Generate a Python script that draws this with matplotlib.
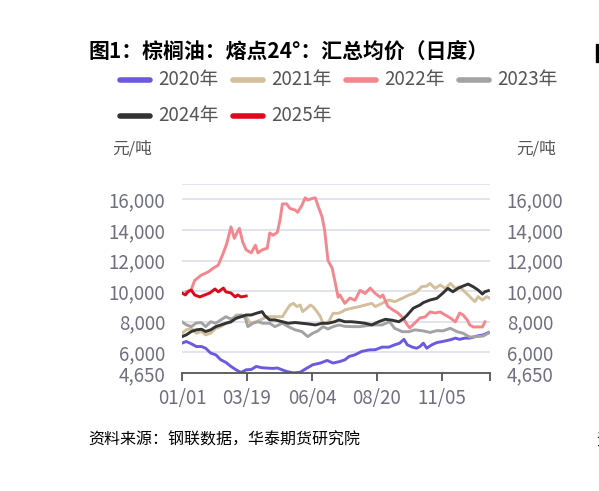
import matplotlib
matplotlib.use("Agg")
import matplotlib.pyplot as plt
from matplotlib.lines import Line2D
from matplotlib.patches import Rectangle

plt.rcParams['font.family'] = ['Noto Sans CJK SC', 'DejaVu Sans']

# 数据：日序(从1月1日起的天数), 价格(元/吨)
d2020 = [0, 5, 11, 17, 23, 28, 34, 40, 46, 52, 58, 64, 70, 76, 82, 88, 94, 101, 108, 113, 119, 124, 132,
         140, 148, 155, 164, 172, 179, 187, 193, 198, 205, 213, 222, 229, 237, 245, 252, 258, 263, 267,
         273, 278, 282, 286, 290, 296, 302, 309, 318, 324, 329, 335, 341, 350, 357, 363]
v2020 = [6600, 6710, 6560, 6380, 6380, 6270, 5950, 5840, 5510, 5340, 5080, 4860, 4680, 4860, 4880, 5080,
         5000, 4970, 4950, 4980, 4850, 4750, 4660, 4700, 4970, 5190, 5300, 5470, 5300, 5400, 5510, 5730,
         5840, 6060, 6160, 6170, 6340, 6340, 6490, 6600, 6850, 6490, 6340, 6270, 6380, 6600, 6270, 6490,
         6640, 6710, 6820, 6930, 6850, 6930, 6930, 7070, 7140, 7290]

d2021 = [0, 5, 11, 17, 23, 28, 34, 40, 46, 52, 58, 64, 70, 76, 81, 88, 94, 101, 110, 119, 124, 128, 132,
         136, 140, 143, 148, 152, 155, 160, 164, 167, 172, 175, 179, 185, 190, 193, 201, 210, 217, 225,
         229, 237, 245, 252, 261, 269, 275, 278, 284, 290, 294, 300, 306, 312, 318, 324, 329, 335, 341,
         347, 351, 356, 361, 365]
v2021 = [7250, 7470, 7570, 7250, 7360, 7140, 7250, 7570, 7680, 7900, 7950, 8440, 8440, 8330, 7900, 8000,
         8150, 8330, 8330, 8330, 8770, 9090, 9200, 8990, 9090, 8660, 8880, 9090, 9000, 8660, 8330, 7900,
         7900, 8120, 8550, 8550, 8660, 8770, 8880, 8990, 9090, 9200, 8990, 9200, 9420, 9310, 9530, 9750,
         9860, 9960, 10290, 10330, 10500, 10180, 10400, 10180, 10500, 10180, 10290, 9960, 9640, 9310,
         9640, 9420, 9640, 9530]

d2022 = [5, 11, 15, 23, 31, 37, 43, 49, 53, 58, 62, 65, 68, 72, 76, 82, 87, 90, 95, 101, 104, 108, 113,
         116, 119, 124, 128, 134, 137, 142, 146, 149, 154, 158, 161, 166, 169, 173, 178, 181, 185, 187,
         193, 199, 205, 211, 217, 223, 229, 235, 238, 244, 250, 256, 262, 267, 270, 276, 282, 288, 294,
         300, 306, 312, 318, 324, 329, 333, 338, 341, 345, 351, 356, 359]
v2022 = [9950, 10100, 10700, 11050, 11250, 11500, 11700, 12500, 13100, 14200, 13450, 13800, 14100, 13200,
         12700, 12500, 13000, 12500, 12700, 12800, 13800, 13650, 13850, 14600, 15700, 15700, 15400, 15300,
         15150, 15600, 16100, 15950, 16050, 16100, 15600, 14850, 14000, 12000, 11500, 10700, 9600, 9750,
         9200, 9550, 9400, 10050, 9850, 10200, 9850, 9600, 9750, 9000, 8770, 8570, 8250, 7790, 7600, 7920,
         8250, 8310, 8640, 8570, 8640, 8440, 8250, 7990, 8570, 8440, 8120, 7790, 7660, 7660, 7660, 7990]

d2023 = [0, 5, 11, 17, 23, 28, 34, 40, 46, 52, 58, 64, 70, 75, 78, 84, 90, 96, 104, 110, 119, 126, 134,
         142, 149, 155, 161, 167, 173, 179, 186, 193, 201, 211, 225, 237, 246, 252, 261, 269, 276, 286,
         294, 302, 309, 318, 326, 333, 341, 350, 357, 363]
v2023 = [8000, 7800, 7680, 7920, 7940, 7680, 8000, 7900, 8120, 8330, 8180, 8330, 8440, 8250, 7680, 7900,
         8000, 7900, 7900, 7680, 7900, 7680, 7470, 7360, 7030, 7250, 7400, 7680, 7530, 7680, 7790, 7700,
         7680, 7680, 7790, 7790, 8000, 7570, 7350, 7350, 7470, 7400, 7300, 7420, 7400, 7570, 7350, 7250,
         7000, 7030, 7070, 7250]

d2024 = [0, 5, 11, 17, 23, 28, 34, 40, 46, 52, 58, 64, 70, 76, 82, 88, 95, 98, 104, 110, 119, 126, 134,
         142, 149, 158, 166, 173, 181, 186, 193, 201, 210, 217, 225, 233, 241, 249, 257, 263, 267, 274,
         278, 282, 286, 294, 302, 309, 315, 321, 327, 333, 339, 345, 351, 356, 359, 363]
v2024 = [7030, 7140, 7360, 7470, 7510, 7360, 7470, 7680, 7790, 7900, 8000, 8220, 8330, 8440, 8440, 8550,
         8660, 8400, 8120, 8120, 8000, 7900, 7950, 7900, 7860, 7790, 7900, 7900, 8000, 8120, 8000, 8000,
         7950, 7900, 7790, 8000, 8160, 8100, 8000, 8220, 8440, 8880, 8990, 9090, 9250, 9420, 9530, 9860,
         10180, 9960, 10180, 10330, 10460, 10290, 10070, 9810, 9960, 10030]

d2025 = [0, 4, 7, 11, 15, 21, 27, 33, 39, 43, 49, 52, 58, 63, 66, 70, 76]
v2025 = [9880, 9750, 9950, 10070, 9750, 9620, 9750, 9880, 10140, 9950, 10200, 9950, 9880, 9620, 9750,
         9620, 9680]

series = [
    ('2020年', d2020, v2020, '#6a5ae0'),
    ('2021年', d2021, v2021, '#d3bf9c'),
    ('2022年', d2022, v2022, '#f4878e'),
    ('2023年', d2023, v2023, '#a3a3a3'),
    ('2024年', d2024, v2024, '#333333'),
    ('2025年', d2025, v2025, '#e0081c'),
]

xticks = [0, 77, 154, 231, 308, 365]
xlabels = ['01/01', '03/19', '06/04', '08/20', '11/05', '']
yticks = [4650, 6000, 8000, 10000, 12000, 14000, 16000]
grid_vals = [6000, 8000, 10000, 12000, 14000, 16000, 17000]

W, H = 599, 491
fig = plt.figure(figsize=(W / 100, H / 100), dpi=100)
ax = fig.add_axes([182 / W, 1 - 373 / H, (490 - 182) / W, (373 - 184) / H])

for g in grid_vals:
    ax.axhline(g, color='#dcdfea', lw=1.2, zorder=0)

for name, d, v, c in series:
    ax.plot(d, v, color=c, lw=2.1, solid_joinstyle='round')

ax.set_xlim(0, 365)
ax.set_ylim(4650, 17000)
for s in ['top', 'left', 'right']:
    ax.spines[s].set_visible(False)
ax.spines['bottom'].set_color('#555555')
ax.spines['bottom'].set_linewidth(1.3)

tick_col = '#6f6f7f'
ax.set_xticks(xticks)
ax.set_xticklabels(xlabels)
ax.tick_params(axis='x', direction='out', length=6, width=1.3, color='#555555',
               labelsize=13.5, labelcolor=tick_col, pad=5)
ax.set_yticks(yticks)
ax.set_yticklabels([f'{t:,}' for t in yticks])
ax.tick_params(axis='y', length=0, labelsize=13.5, labelcolor=tick_col, pad=12,
               labelleft=True, labelright=True)

# 标题
fig.text(88 / W, 1 - 52 / H, '图1：棕榈油：熔点24°：汇总均价（日度）', fontsize=15,
         fontweight='bold', color='black', ha='left', va='center')

# 图例
for i, (name, d, v, c) in enumerate(series):
    hx = 120 + (i % 4) * 113
    hy = 80 + (i // 4) * 36
    fig.add_artist(Line2D([hx / W, (hx + 30) / W], [1 - hy / H, 1 - hy / H],
                          color=c, lw=4, solid_capstyle='round', transform=fig.transFigure))
    fig.text((hx + 38) / W, 1 - hy / H, name, fontsize=13.5, color='#555555',
             ha='left', va='center')

# 单位
fig.text(112 / W, 1 - 149 / H, '元/吨', fontsize=12, color='#555555', ha='left', va='center')
fig.text(516 / W, 1 - 149 / H, '元/吨', fontsize=12, color='#555555', ha='left', va='center')

# 来源
fig.text(88 / W, 1 - 440 / H, '资料来源：钢联数据，华泰期货研究院', fontsize=11.5,
         color='black', ha='left', va='center')

# 右侧相邻图表的边缘
fig.add_artist(Rectangle((596 / W, 1 - 62 / H), 2 / W, 18 / H, color='black',
                         transform=fig.transFigure))
fig.text(596 / W, 1 - 440 / H, '资', fontsize=11.5, color='black', ha='left', va='center')

fig.savefig('out.png', dpi=100)
